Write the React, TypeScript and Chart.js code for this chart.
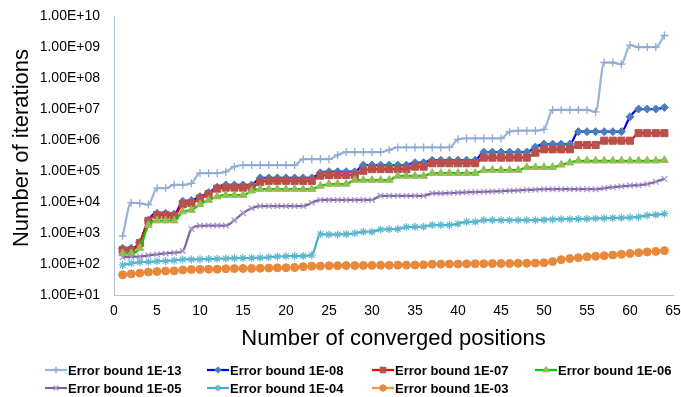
import { useEffect, useRef } from 'react';
import { Chart, registerables } from 'chart.js';
import { drawPoint } from 'chart.js/helpers';

Chart.register(...registerables);

// Number of converged positions (x axis)
const POSITIONS = [
  1, 2, 3, 4, 5, 6, 7, 8, 9, 10, 11, 12, 13, 14, 15, 16,
  17, 18, 19, 20, 21, 22, 23, 24, 25, 26, 27, 28, 29, 30, 31, 32,
  33, 34, 35, 36, 37, 38, 39, 40, 41, 42, 43, 44, 45, 46, 47, 48,
  49, 50, 51, 52, 53, 54, 55, 56, 57, 58, 59, 60, 61, 62, 63, 64,
];

// Number of iterations for each error bound
const BOUND_1E13 = [
  800, 9500, 9000, 8300, 28000, 28000, 36000, 36000, 40000, 85000, 85000, 85000, 95000, 138000,
  155000, 155000, 155000, 155000, 155000, 155000, 155000,
  240000, 240000, 240000, 240000, 330000,
  410000, 410000, 410000, 410000, 410000, 480000,
  575000, 575000, 575000, 575000, 575000, 575000, 575000,
  1050000, 1120000, 1120000, 1120000, 1120000, 1120000,
  1860000, 2000000, 2000000, 2000000, 2200000,
  9300000, 9300000, 9300000, 9300000, 9300000, 8100000,
  316000000, 316000000, 280000000, 1150000000,
  1000000000, 1000000000, 1000000000, 2350000000,
];

const BOUND_1E08 = [
  320, 320, 500, 2600, 4300, 4300, 4000, 10500, 11200, 15000, 20000, 30000,
  35500, 35500, 35500, 35500,
  60000, 60000, 60000, 60000, 60000, 60000, 60000, 87000,
  95000, 95000, 95000, 95000,
  155000, 155000, 155000, 155000, 155000, 155000, 186000, 186000,
  224000, 224000, 224000, 224000, 224000, 224000,
  410000, 410000, 410000, 410000, 410000, 410000, 590000,
  740000, 740000, 740000, 740000,
  1860000, 1860000, 1860000, 1860000, 1860000, 1860000, 5600000,
  10000000, 10000000, 10000000, 11200000,
];

const BOUND_1E07 = [
  280, 280, 470, 2450, 3800, 3800, 3600, 8500, 9100, 13000, 18000, 27000,
  29000, 29000, 29000, 29000, 44000,
  48000, 48000, 48000, 48000, 48000, 48000, 71000,
  74000, 74000, 74000, 74000, 102000,
  115000, 115000, 115000, 115000, 115000, 138000, 138000,
  178000, 178000, 178000, 178000, 178000, 178000,
  270000, 270000, 270000, 270000, 270000, 270000, 390000,
  500000, 500000, 500000, 500000, 690000, 690000, 690000,
  950000, 950000, 950000, 950000,
  1660000, 1660000, 1660000, 1660000,
];

const BOUND_1E06 = [
  220, 220, 330, 1800, 2500, 2500, 2500, 4900, 5500, 8500, 11500, 15000,
  16600, 16600, 16600, 23000,
  26000, 26000, 26000, 26000, 26000, 26000, 26000, 33000,
  38000, 38000, 38000, 51000, 51000, 51000, 51000, 51000,
  69000, 69000, 69000, 69000,
  85000, 85000, 85000, 85000, 85000, 85000,
  107000, 107000, 107000, 107000, 107000,
  132000, 132000, 132000, 132000, 158000, 186000,
  214000, 214000, 214000, 214000, 214000, 214000, 214000, 214000, 214000, 214000, 224000,
];

const BOUND_1E05 = [
  165, 170, 175, 190, 205, 220, 230, 265, 1350, 1700, 1740, 1740, 1740, 2600, 4400, 6300,
  7400, 7400, 7400, 7400, 7400, 7400, 9500,
  11700, 11700, 11700, 11700, 11700, 11700, 11700,
  15800, 15800, 15800, 15800, 15800, 15800,
  19000, 19000, 19500, 20000, 20500, 21000, 21400, 22000, 22400, 23000, 23500, 24500, 25000,
  26000, 26000, 26000, 26000, 26000, 26000, 26000,
  28000, 30000, 32000, 34000, 35000, 38000, 45000, 56000,
];

const BOUND_1E04 = [
  93, 105, 115, 118, 122, 125, 130, 140, 140, 142, 144, 148,
  150, 152, 155, 157, 160, 165, 175, 178, 180, 182, 195,
  930, 890, 900, 920, 980, 1100, 1100, 1300, 1320, 1350, 1550, 1580, 1600,
  1800, 1800, 1800, 2000, 2300, 2300,
  2600, 2600, 2600, 2600, 2600, 2600, 2600,
  2700, 2750, 2800, 2800, 2850, 2900, 2950, 3000, 3050, 3100, 3150,
  3300, 3700, 3900, 4200,
];

const BOUND_1E03 = [
  45, 48, 51, 55, 57, 59, 60, 64, 66, 67, 68, 68,
  70, 71, 72, 72, 73, 74, 75, 76, 77, 82, 85, 86,
  88, 88, 89, 89, 90, 90, 91, 91, 92, 92, 93, 94,
  98, 99, 100, 100, 101, 102, 102, 103, 104, 104, 105, 106, 107,
  110, 120, 138, 150, 160, 170, 178, 185, 195, 205, 218, 232, 245, 255, 270,
];

// Axis ticks
const Y_TICKS = [1e1, 1e2, 1e3, 1e4, 1e5, 1e6, 1e7, 1e8, 1e9, 1e10];
const Y_TICK_LABELS = [
  '1.00E+01', '1.00E+02', '1.00E+03', '1.00E+04', '1.00E+05',
  '1.00E+06', '1.00E+07', '1.00E+08', '1.00E+09', '1.00E+10',
];

const FONT = "'Liberation Sans', Arial, Helvetica, sans-serif";

const SERIES = [
  { label: 'Error bound 1E-13', data: BOUND_1E13, line: '#9AB5DA', marker: '#8FAAD2', style: 'cross', radius: 4, mw: 1.3 },
  { label: 'Error bound 1E-08', data: BOUND_1E08, line: '#0000FF', marker: '#4A7EBB', style: 'rectRot', radius: 4, mw: 1 },
  { label: 'Error bound 1E-07', data: BOUND_1E07, line: '#FF0000', marker: '#B8504B', style: 'rect', radius: 5, mw: 1 },
  { label: 'Error bound 1E-06', data: BOUND_1E06, line: '#00D000', marker: '#98B954', style: 'triangle', radius: 4.5, mw: 1 },
  { label: 'Error bound 1E-05', data: BOUND_1E05, line: '#7F62A1', marker: '#A593C6', style: 'crossRot', radius: 4, mw: 1.2 },
  { label: 'Error bound 1E-04', data: BOUND_1E04, line: '#4AACC5', marker: '#5DB8D0', style: 'star', radius: 4, mw: 1.2 },
  { label: 'Error bound 1E-03', data: BOUND_1E03, line: '#F59547', marker: '#E8883A', style: 'circle', radius: 4, mw: 1 },
];

// Legend grid: four columns, two rows
const LEGEND_COLS = [45, 207, 372, 535];
const LEGEND_ROWS = [370, 388];

const legendPlugin = {
  id: 'boundLegend',
  afterDraw(chart: any) {
    const ctx = chart.ctx as CanvasRenderingContext2D;
    ctx.save();
    chart.data.datasets.forEach((ds: any, i: number) => {
      const col = i % 4;
      const row = i < 4 ? 0 : 1;
      const x = LEGEND_COLS[col];
      const y = LEGEND_ROWS[row];
      ctx.strokeStyle = ds.borderColor;
      ctx.lineWidth = 2.25;
      ctx.beginPath();
      ctx.moveTo(x, y);
      ctx.lineTo(x + 22, y);
      ctx.stroke();
      ctx.fillStyle = ds.pointBackgroundColor;
      ctx.strokeStyle = ds.pointBorderColor;
      ctx.lineWidth = ds.pointBorderWidth;
      drawPoint(ctx, { pointStyle: ds.pointStyle, radius: ds.pointRadius * 0.8, rotation: 0, borderWidth: ds.pointBorderWidth }, x + 11, y);
      ctx.fillStyle = '#000';
      ctx.font = `bold 13px ${FONT}`;
      ctx.textAlign = 'left';
      ctx.textBaseline = 'middle';
      ctx.fillText(ds.label, x + 23, y + 1);
    });
    ctx.restore();
  },
};

// Rotated y axis title
const yTitlePlugin = {
  id: 'yTitle',
  afterDraw(chart: any) {
    const ctx = chart.ctx as CanvasRenderingContext2D;
    ctx.save();
    ctx.translate(28, 148);
    ctx.rotate(-Math.PI / 2);
    ctx.font = `22px ${FONT}`;
    ctx.fillStyle = '#000';
    ctx.textAlign = 'center';
    ctx.textBaseline = 'alphabetic';
    ctx.fillText('Number of iterations', 0, 0);
    ctx.restore();
  },
};

export default function App() {
  const canvasRef = useRef<HTMLCanvasElement | null>(null);

  useEffect(() => {
    document.body.style.margin = '0';
    const canvas = canvasRef.current;
    if (!canvas) return;

    const datasets = SERIES.map((s, i) => ({
      label: s.label,
      data: s.data.map((v, k) => ({ x: POSITIONS[k], y: v })),
      borderColor: s.line,
      backgroundColor: s.line,
      borderWidth: 2.25,
      pointStyle: s.style,
      pointRadius: s.radius,
      pointBackgroundColor: s.marker,
      pointBorderColor: s.marker,
      pointBorderWidth: s.mw,
      pointHoverRadius: s.radius,
      cubicInterpolationMode: 'monotone',
      fill: false,
      order: SERIES.length - i,
    }));

    const chart = new Chart(canvas, {
      type: 'line',
      data: { datasets },
      plugins: [legendPlugin, yTitlePlugin],
      options: {
        responsive: false,
        animation: false,
        devicePixelRatio: 1,
        layout: { padding: { top: 16, right: 8, bottom: 44, left: 0 } },
        plugins: {
          legend: { display: false },
          tooltip: { enabled: false },
        },
        scales: {
          x: {
            type: 'linear',
            min: 0,
            max: 65,
            grid: { display: false, drawTicks: false },
            border: { display: true, color: '#BFBFBF', width: 1 },
            ticks: {
              stepSize: 5,
              padding: 8,
              color: '#000',
              font: { family: FONT, size: 14 },
              maxRotation: 0,
            },
            title: {
              display: true,
              text: 'Number of converged positions',
              color: '#000',
              font: { family: FONT, size: 22 },
              padding: { top: 0, bottom: 1 },
            },
            afterFit: (scale: any) => {
              scale.height = 58;
              scale.paddingLeft = 4;
              scale.paddingRight = 4;
            },
          },
          y: {
            type: 'logarithmic',
            min: 10,
            max: 1e10,
            grid: { display: false, drawTicks: false },
            border: { display: true, color: '#A7BFDE', width: 1 },
            afterBuildTicks: (scale: any) => {
              scale.ticks = Y_TICKS.map((v) => ({ value: v }));
            },
            ticks: {
              padding: 14,
              color: '#000',
              font: { family: FONT, size: 14 },
              callback: (value: any) => {
                const idx = Y_TICKS.indexOf(Number(value));
                return idx >= 0 ? Y_TICK_LABELS[idx] : '';
              },
            },
            afterFit: (scale: any) => {
              scale.width = 114;
              scale.paddingTop = 8;
              scale.paddingBottom = 8;
            },
          },
        },
      },
    } as any);

    return () => {
      chart.destroy();
    };
  }, []);

  return (
    <div style={{ width: 681, height: 397, background: '#fff' }}>
      <canvas ref={canvasRef} width={681} height={397} style={{ display: 'block' }} />
    </div>
  );
}
